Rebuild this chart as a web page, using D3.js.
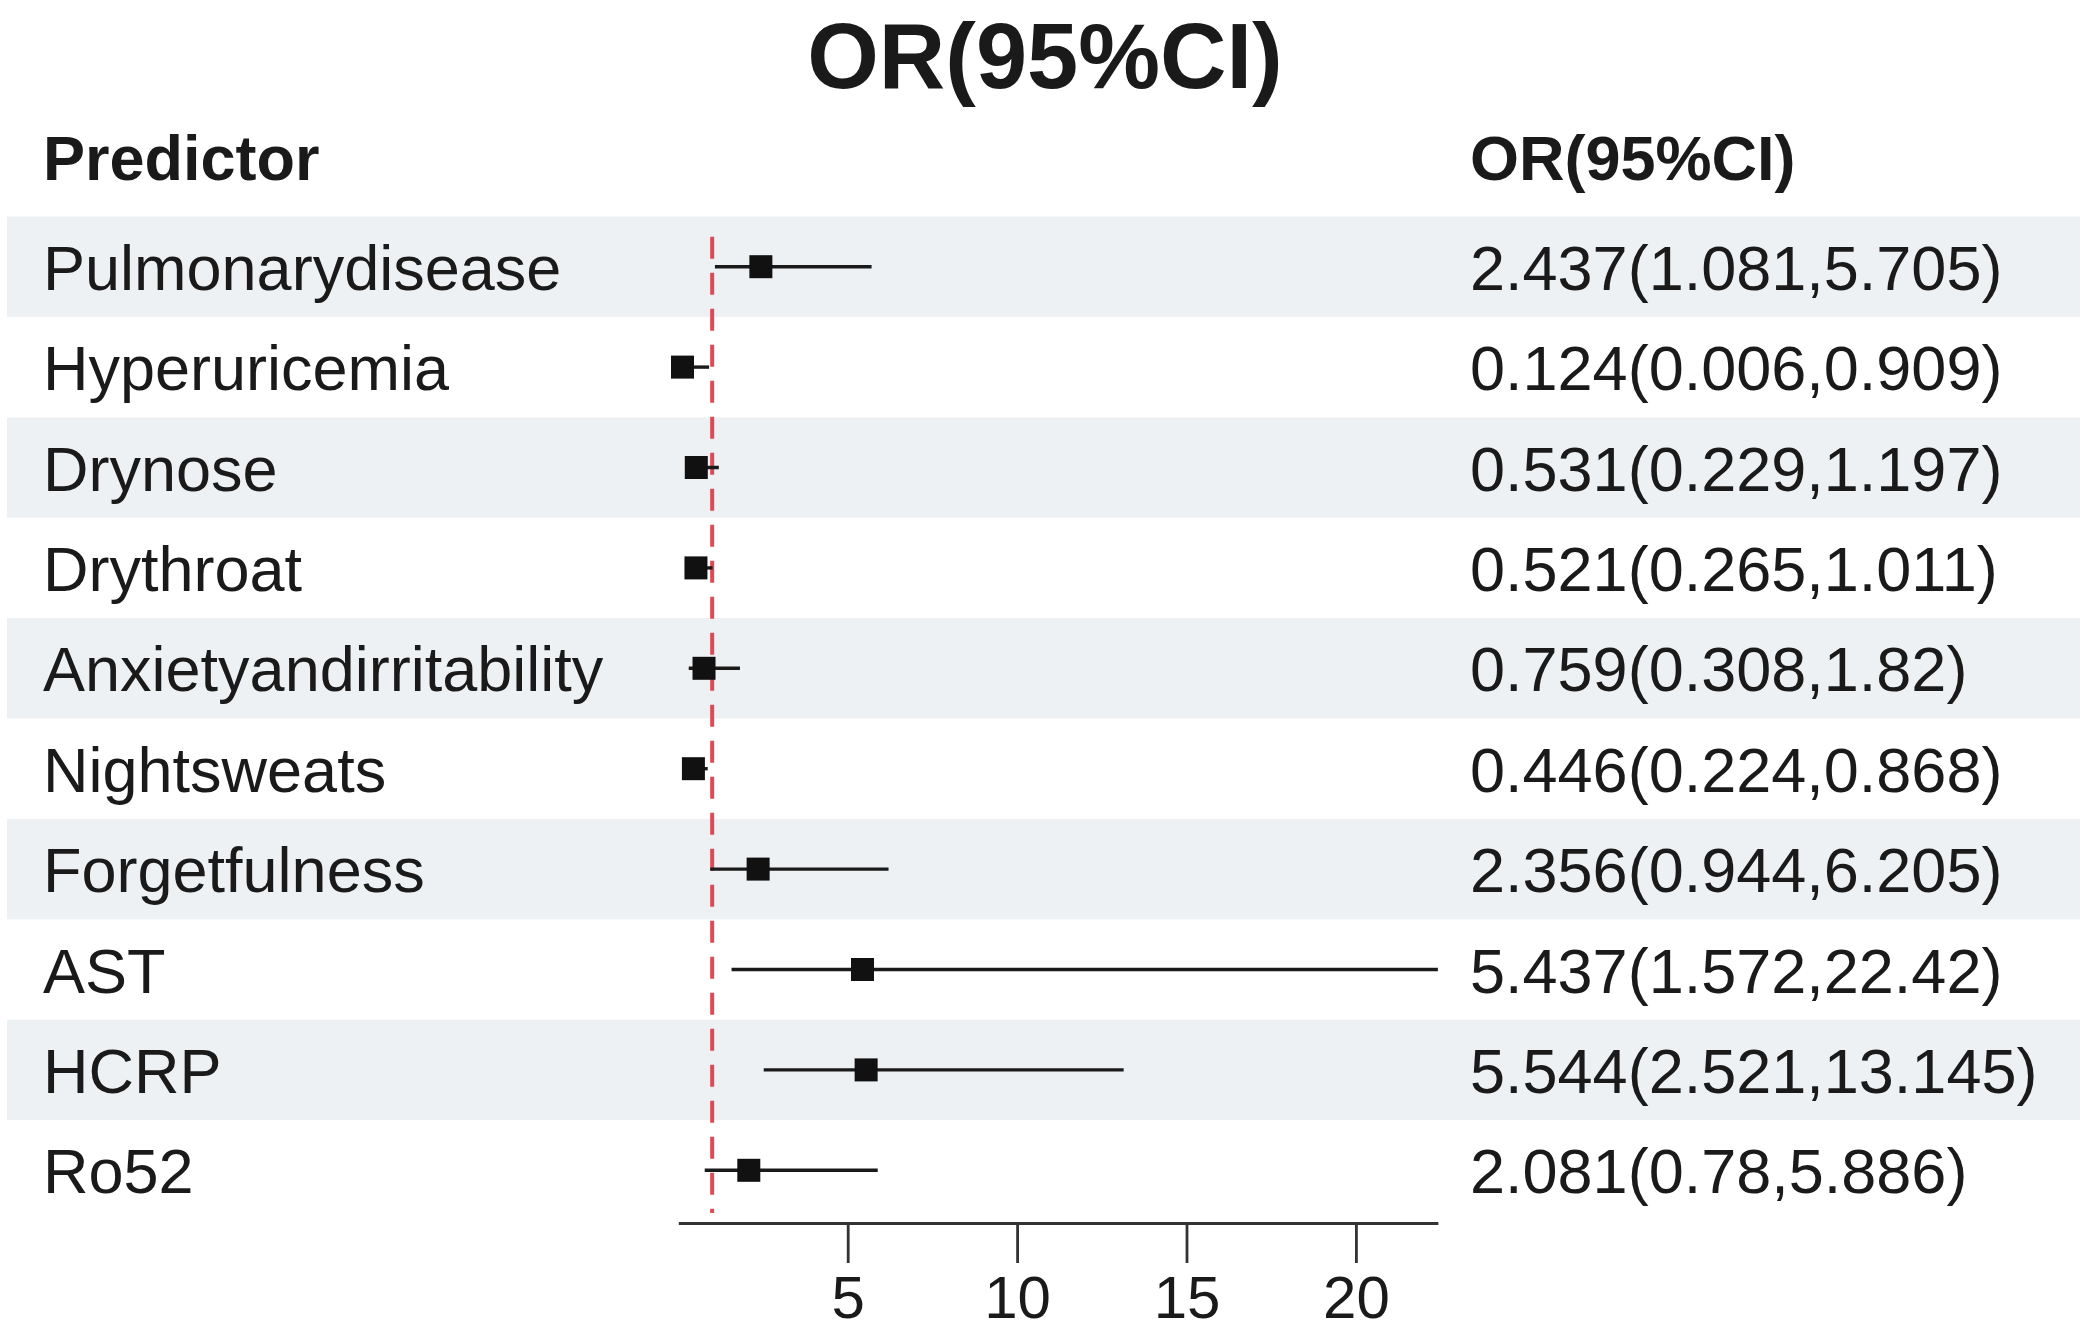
<!DOCTYPE html>
<html>
<head>
<meta charset="utf-8">
<script src="https://cdn.jsdelivr.net/npm/d3@7"></script>
<style>
    body { margin: 0; background: #fff; }
    text { font-family: "Liberation Sans", Arial, Helvetica, sans-serif; fill: #1a1a1a; }
</style>
</head>
<body>
<div id="chart"></div>
<script>
// Data
const predictors = ['Pulmonarydisease', 'Hyperuricemia', 'Drynose', 'Drythroat', 'Anxietyandirritability',
    'Nightsweats', 'Forgetfulness', 'AST', 'HCRP', 'Ro52'];
const orValues = [2.437, 0.124, 0.531, 0.521, 0.759, 0.446, 2.356, 5.437, 5.544, 2.081];
const lowerCI = [1.081, 0.006, 0.229, 0.265, 0.308, 0.224, 0.944, 1.572, 2.521, 0.78];
const upperCI = [5.705, 0.909, 1.197, 1.011, 1.82, 0.868, 6.205, 22.42, 13.145, 5.886];
const xTicks = [5, 10, 15, 20];

// Layout
const width = 2091;
const height = 1331;
const firstRowY = 266.7;
const rowStep = 100.4;
const labelX = 43;
const valueX = 1470;
const axisY = 1223;
const fontSize = 63;

const rows = predictors.map((p, i) => ({
    name: p,
    or: orValues[i],
    lo: lowerCI[i],
    hi: upperCI[i],
    text: `${orValues[i]}(${lowerCI[i]},${upperCI[i]})`
}));

const svg = d3.select('#chart')
    .append('svg')
    .attr('width', width)
    .attr('height', height);

// Scales
const xScale = d3.scaleLinear()
    .domain([0, d3.max(upperCI)])
    .range([678.3, 678.3 + d3.max(upperCI) * 33.88]);

const yScale = d3.scaleLinear()
    .domain([0, predictors.length - 1])
    .range([firstRowY, firstRowY + (predictors.length - 1) * rowStep]);

// Shaded bands on every other row
svg.selectAll('.band')
    .data(rows.filter((d, i) => i % 2 === 0))
    .enter()
    .append('rect')
    .attr('class', 'band')
    .attr('x', 7)
    .attr('width', 2080 - 7)
    .attr('y', d => yScale(predictors.indexOf(d.name)) - rowStep / 2)
    .attr('height', rowStep)
    .attr('fill', '#eef1f4');

// Title
svg.append('text')
    .attr('x', 1045)
    .attr('y', 88)
    .attr('text-anchor', 'middle')
    .attr('font-size', 92)
    .attr('font-weight', 'bold')
    .text('OR(95%CI)');

// Column headers
svg.append('text')
    .attr('x', labelX)
    .attr('y', 180)
    .attr('font-size', fontSize)
    .attr('font-weight', 'bold')
    .text('Predictor');

svg.append('text')
    .attr('x', valueX)
    .attr('y', 180)
    .attr('font-size', fontSize)
    .attr('font-weight', 'bold')
    .text('OR(95%CI)');

// Row labels and values
svg.selectAll('.label')
    .data(rows)
    .enter()
    .append('text')
    .attr('class', 'label')
    .attr('x', labelX)
    .attr('y', (d, i) => yScale(i) + 23)
    .attr('font-size', fontSize)
    .text(d => d.name);

svg.selectAll('.value')
    .data(rows)
    .enter()
    .append('text')
    .attr('class', 'value')
    .attr('x', valueX)
    .attr('y', (d, i) => yScale(i) + 23)
    .attr('font-size', fontSize)
    .text(d => d.text);

// Reference line at OR = 1
svg.append('line')
    .attr('x1', xScale(1))
    .attr('x2', xScale(1))
    .attr('y1', yScale(0) - 30)
    .attr('y2', axisY - 10)
    .attr('stroke', '#dc4a55')
    .attr('stroke-width', 4)
    .attr('stroke-dasharray', '22,14');

// Confidence intervals
svg.selectAll('.ci')
    .data(rows)
    .enter()
    .append('line')
    .attr('class', 'ci')
    .attr('x1', d => xScale(d.lo))
    .attr('x2', d => xScale(d.hi))
    .attr('y1', (d, i) => yScale(i))
    .attr('y2', (d, i) => yScale(i))
    .attr('stroke', '#1a1a1a')
    .attr('stroke-width', 3.4);

// Point estimates
const boxSize = 23;
svg.selectAll('.box')
    .data(rows)
    .enter()
    .append('rect')
    .attr('class', 'box')
    .attr('x', d => xScale(d.or) - boxSize / 2)
    .attr('y', (d, i) => yScale(i) - boxSize / 2)
    .attr('width', boxSize)
    .attr('height', boxSize)
    .attr('fill', '#111');

// x axis
const xAxis = d3.axisBottom(xScale)
    .tickValues(xTicks)
    .tickSize(40)
    .tickSizeOuter(0)
    .tickPadding(12)
    .tickFormat(d3.format('d'));

const axisG = svg.append('g')
    .attr('transform', `translate(0, ${axisY})`)
    .call(xAxis);

axisG.select('.domain')
    .attr('stroke', '#333')
    .attr('stroke-width', 2.8);

axisG.selectAll('.tick line')
    .attr('stroke', '#333')
    .attr('stroke-width', 2.8);

// tick labels a touch smaller so they stay inside the page
axisG.selectAll('.tick text')
    .attr('font-size', 60)
    .attr('font-family', '"Liberation Sans", Arial, Helvetica, sans-serif')
    .attr('fill', '#1a1a1a');
</script>
</body>
</html>
